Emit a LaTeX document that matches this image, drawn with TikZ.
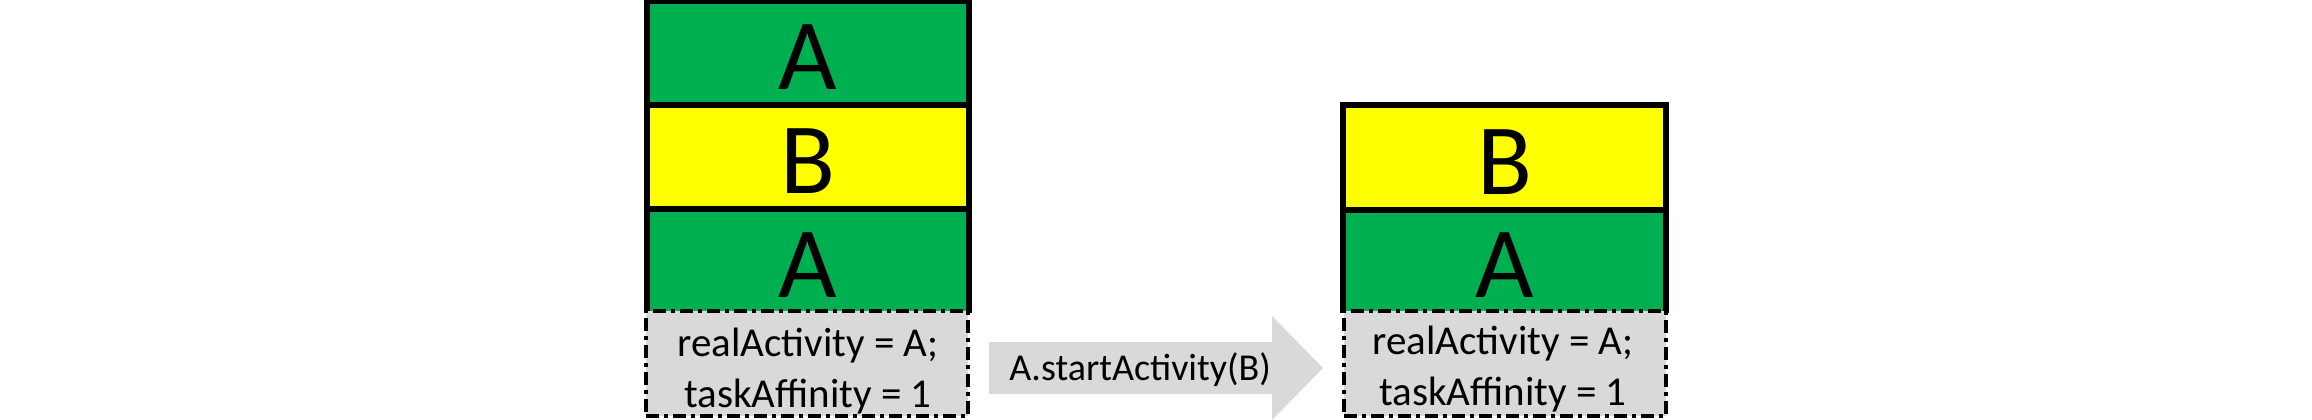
\documentclass[tikz,border=0pt]{standalone}
\usepackage{fontspec}
\setmainfont{Carlito}
\definecolor{cgreen}{HTML}{00B050}
\definecolor{cyellow}{HTML}{FFFF00}
\definecolor{cgray}{HTML}{D9D9D9}
\begin{document}
\begin{tikzpicture}[x=1pt,y=-1pt,
  cell/.style={minimum width=322pt, minimum height=104pt, inner sep=0pt,
    text height=73pt, text depth=0pt, font=\fontsize{101}{101}\selectfont},
  greencell/.style={cell, fill=cgreen},
  yellowcell/.style={cell, fill=cyellow},
  border/.style={line width=6pt, draw=black},
  infobox/.style={minimum width=322pt, minimum height=105pt, inner sep=0pt,
    fill=cgray, draw=black, line width=4pt,
    dash pattern=on 13pt off 5pt on 4pt off 5pt},
  infotext/.style={anchor=base, inner sep=0pt, font=\fontsize{41}{48}\selectfont},
  arrowtext/.style={anchor=base, inner sep=0pt, font=\fontsize{38}{44}\selectfont}
]
\useasboundingbox (0,0) rectangle (2312,420);
% left stack
\node[greencell]  (la1) at (808,53)  {A};
\node[yellowcell] (lb)  at (808,157) {B};
\node[greencell]  (la2) at (808,261) {A};
\draw[border] (la2.south west) |- (la1.north east) -- (la2.south east);
\draw[border] (la1.south west) -- (la1.south east);
\draw[border] (lb.south west) -- (lb.south east);
\node[infobox] (linfo) at (807,363.5) {};
\node[infotext] (lt1) at (808,356) {realActivity = A;};
\node[infotext] (lt2) at (808,407) {taskAffinity = 1};
% arrow
\fill[cgray] (989,342) -- (1272,342) -- (1272,316) -- (1323,368) -- (1272,420) -- (1272,394) -- (989,394) -- cycle;
\node[arrowtext] (call) at (1140,380) {A.startActivity(B)};
% right stack
\node[yellowcell] (rb)  at (1504.5,157.5) {B};
\node[greencell]  (ra)  at (1504.5,260.5) {A};
\draw[border] (ra.south west) |- (rb.north east) -- (ra.south east);
\draw[border] (rb.south west) -- (rb.south east);
\node[infobox] (rinfo) at (1504.5,363) {};
\node[infotext] (rt1) at (1503,354) {realActivity = A;};
\node[infotext] (rt2) at (1503,405) {taskAffinity = 1};
\end{tikzpicture}
\end{document}
